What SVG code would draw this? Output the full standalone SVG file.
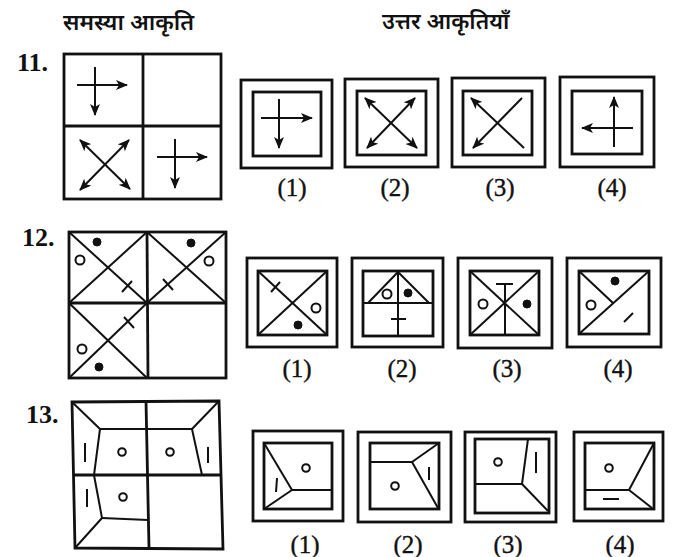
<svg xmlns="http://www.w3.org/2000/svg" width="686" height="557" viewBox="0 0 686 557">
<defs>
<marker id="ah" viewBox="0 0 12 10" refX="11" refY="5" markerWidth="12" markerHeight="10" markerUnits="userSpaceOnUse" orient="auto-start-reverse">
<path d="M0,0 L12,5 L0,10 L3,5 z" fill="#111"/>
</marker>
</defs>
<style>
.bx{fill:none;stroke:#111;stroke-width:2.8}
.ln{fill:none;stroke:#111;stroke-width:2}
.ar{fill:none;stroke:#111;stroke-width:2;marker-end:url(#ah)}
.ar2{fill:none;stroke:#111;stroke-width:2;marker-start:url(#ah);marker-end:url(#ah)}
.oc{fill:#fff;stroke:#111;stroke-width:2}
.fd{fill:#111;stroke:#111;stroke-width:1}
.hd{font-family:"Noto Sans Devanagari","Noto Sans","DejaVu Sans",sans-serif;font-weight:600;fill:#111}
.num{font-family:"Liberation Serif",serif;font-weight:bold;font-size:26px;fill:#111}
.lb{font-family:"Liberation Serif",serif;font-size:25px;fill:#111;stroke:#111;stroke-width:0.4;text-anchor:middle}
</style>
<rect width="686" height="557" fill="#fff"/>

<g id="headers">
<text class="hd" x="63" y="30" font-size="23">समस्या आकृति</text>
<text class="hd" x="382" y="29" font-size="22.5">उत्तर आकृतियाँ</text>
</g>

<!-- Question 11 -->
<g id="q11-problem">
<text class="num" x="17" y="71">11.</text>
<rect class="bx" x="64" y="54" width="157" height="145"/>
<line class="bx" x1="143" y1="54" x2="143" y2="199"/>
<line class="bx" x1="64" y1="126" x2="221" y2="126"/>
<line class="ar" x1="77" y1="85" x2="127" y2="85"/>
<line class="ar" x1="95" y1="67" x2="95" y2="115"/>
<line class="ar2" x1="80" y1="140" x2="130" y2="189"/>
<line class="ar2" x1="129" y1="140" x2="80" y2="190"/>
<line class="ar" x1="157" y1="157" x2="207" y2="157"/>
<line class="ar" x1="175" y1="139" x2="175" y2="188"/>
</g>
<g id="q11-a1">
<rect class="bx" x="241" y="80" width="91" height="88"/>
<rect class="bx" x="253" y="92" width="68" height="64"/>
<line class="ar" x1="261" y1="118" x2="312" y2="118"/>
<line class="ar" x1="279" y1="99" x2="279" y2="148"/>
<text class="lb" x="292" y="196">(1)</text>
</g>
<g id="q11-a2">
<rect class="bx" x="345" y="79" width="93" height="88"/>
<rect class="bx" x="357" y="91" width="69" height="64"/>
<line class="ar2" x1="365" y1="98" x2="417" y2="148"/>
<line class="ar2" x1="415" y1="98" x2="367" y2="148"/>
<text class="lb" x="395" y="196">(2)</text>
</g>
<g id="q11-a3">
<rect class="bx" x="452" y="78" width="93" height="89"/>
<rect class="bx" x="463" y="91" width="69" height="64"/>
<line class="ar" x1="524" y1="148" x2="471" y2="98"/>
<line class="ar" x1="522" y1="98" x2="473" y2="148"/>
<text class="lb" x="500" y="196">(3)</text>
</g>
<g id="q11-a4">
<rect class="bx" x="560" y="77" width="94" height="90"/>
<rect class="bx" x="572" y="91" width="70" height="63"/>
<line class="ar" x1="633" y1="128" x2="582" y2="128"/>
<line class="ar" x1="614" y1="147" x2="614" y2="97"/>
<text class="lb" x="612" y="196">(4)</text>
</g>

<!-- Question 12 -->
<g id="q12-problem">
<text class="num" x="22" y="246">12.</text>
<rect class="bx" x="69" y="232" width="157" height="146"/>
<line class="bx" x1="147" y1="232" x2="148" y2="378"/>
<line class="bx" x1="69" y1="303" x2="226" y2="303"/>
<line class="ln" x1="69" y1="232" x2="147" y2="303"/>
<line class="ln" x1="147" y1="232" x2="69" y2="303"/>
<circle class="oc" cx="80" cy="260" r="4.5"/>
<circle class="fd" cx="97" cy="242" r="4"/>
<line class="ln" x1="122" y1="292" x2="132" y2="281"/>
<line class="ln" x1="147" y1="232" x2="226" y2="303"/>
<line class="ln" x1="226" y1="232" x2="147" y2="303"/>
<circle class="fd" cx="191" cy="243" r="4"/>
<circle class="oc" cx="209" cy="261" r="4.5"/>
<line class="ln" x1="163" y1="279" x2="173" y2="290"/>
<line class="ln" x1="69" y1="303" x2="147" y2="378"/>
<line class="ln" x1="147" y1="303" x2="69" y2="378"/>
<circle class="oc" cx="82" cy="349" r="4.5"/>
<circle class="fd" cx="99" cy="367" r="4"/>
<line class="ln" x1="124" y1="317" x2="134" y2="328"/>
</g>
<g id="q12-a1">
<rect class="bx" x="247" y="258" width="90" height="89"/>
<rect class="bx" x="258" y="271" width="69" height="64"/>
<line class="ln" x1="258" y1="271" x2="327" y2="335"/>
<line class="ln" x1="327" y1="271" x2="258" y2="335"/>
<line class="ln" x1="271" y1="292" x2="280" y2="282"/>
<circle class="oc" cx="316" cy="308" r="4.5"/>
<circle class="fd" cx="298" cy="325" r="4"/>
<text class="lb" x="297" y="377">(1)</text>
</g>
<g id="q12-a2">
<rect class="bx" x="352" y="258" width="91" height="89"/>
<rect class="bx" x="363" y="271" width="70" height="65"/>
<line class="ln" x1="363" y1="303" x2="433" y2="303"/>
<line class="ln" x1="398" y1="271" x2="398" y2="336"/>
<polyline class="ln" points="368,303 398,272 429,303"/>
<circle class="oc" cx="387" cy="294" r="4.5"/>
<circle class="fd" cx="408" cy="293" r="4"/>
<line class="ln" x1="391" y1="319" x2="406" y2="319"/>
<text class="lb" x="402" y="377">(2)</text>
</g>
<g id="q12-a3">
<rect class="bx" x="458" y="258" width="94" height="90"/>
<rect class="bx" x="470" y="271" width="69" height="64"/>
<line class="ln" x1="470" y1="271" x2="539" y2="335"/>
<line class="ln" x1="539" y1="271" x2="470" y2="335"/>
<line class="ln" x1="505" y1="284" x2="505" y2="335"/>
<line class="ln" x1="496" y1="284" x2="513" y2="284"/>
<circle class="oc" cx="483" cy="304" r="4.5"/>
<circle class="fd" cx="527" cy="304" r="4"/>
<text class="lb" x="507" y="377">(3)</text>
</g>
<g id="q12-a4">
<rect class="bx" x="567" y="258" width="94" height="89"/>
<rect class="bx" x="579" y="271" width="70" height="63"/>
<line class="ln" x1="579" y1="334" x2="649" y2="271"/>
<line class="ln" x1="579" y1="271" x2="613" y2="303"/>
<circle class="fd" cx="615" cy="281" r="4"/>
<circle class="oc" cx="591" cy="305" r="4.5"/>
<line class="ln" x1="624" y1="322" x2="633" y2="313"/>
<text class="lb" x="618" y="377">(4)</text>
</g>

<!-- Question 13 -->
<g id="q13-problem">
<text class="num" x="26" y="423">13.</text>
<polygon class="bx" points="72,402 219,401 223,549 75,548"/>
<line class="bx" x1="146" y1="401" x2="149" y2="548"/>
<line class="bx" x1="73" y1="475" x2="221" y2="475"/>
<line class="ln" x1="72" y1="402" x2="100" y2="429"/>
<line class="ln" x1="100" y1="429" x2="146" y2="429"/>
<line class="ln" x1="100" y1="429" x2="94" y2="475"/>
<line class="ln" x1="85" y1="443" x2="85" y2="462"/>
<circle class="oc" cx="122" cy="452" r="3.8"/>
<line class="ln" x1="219" y1="401" x2="192" y2="429"/>
<line class="ln" x1="146" y1="429" x2="192" y2="429"/>
<line class="ln" x1="192" y1="429" x2="202" y2="475"/>
<line class="ln" x1="208" y1="447" x2="208" y2="463"/>
<circle class="oc" cx="170" cy="452" r="3.8"/>
<line class="ln" x1="94" y1="475" x2="102" y2="518"/>
<line class="ln" x1="102" y1="518" x2="148" y2="520"/>
<line class="ln" x1="102" y1="518" x2="75" y2="548"/>
<line class="ln" x1="87" y1="489" x2="87" y2="507"/>
<circle class="oc" cx="123" cy="497" r="3.8"/>
</g>
<g id="q13-a1">
<rect class="bx" x="253" y="431" width="90" height="90"/>
<rect class="bx" x="264" y="443" width="68" height="66"/>
<line class="ln" x1="264" y1="443" x2="292" y2="490"/>
<line class="ln" x1="292" y1="490" x2="332" y2="490"/>
<line class="ln" x1="292" y1="490" x2="264" y2="509"/>
<line class="ln" x1="277" y1="478" x2="276" y2="492"/>
<circle class="oc" cx="306" cy="468" r="3.8"/>
<text class="lb" x="305" y="553">(1)</text>
</g>
<g id="q13-a2">
<rect class="bx" x="358" y="432" width="93" height="90"/>
<rect class="bx" x="370" y="443" width="69" height="66"/>
<line class="ln" x1="370" y1="462" x2="412" y2="462"/>
<line class="ln" x1="412" y1="462" x2="439" y2="443"/>
<line class="ln" x1="412" y1="462" x2="438" y2="508"/>
<line class="ln" x1="429" y1="467" x2="429" y2="480"/>
<circle class="oc" cx="395" cy="486" r="3.8"/>
<text class="lb" x="408" y="553">(2)</text>
</g>
<g id="q13-a3">
<rect class="bx" x="465" y="432" width="91" height="90"/>
<rect class="bx" x="475" y="439" width="74" height="74"/>
<line class="ln" x1="475" y1="484" x2="522" y2="484"/>
<line class="ln" x1="522" y1="484" x2="528" y2="439"/>
<line class="ln" x1="522" y1="484" x2="548" y2="511"/>
<line class="ln" x1="536" y1="452" x2="536" y2="473"/>
<circle class="oc" cx="498" cy="462" r="3.8"/>
<text class="lb" x="508" y="553">(3)</text>
</g>
<g id="q13-a4">
<rect class="bx" x="574" y="432" width="89" height="89"/>
<rect class="bx" x="585" y="443" width="69" height="66"/>
<line class="ln" x1="585" y1="490" x2="629" y2="490"/>
<line class="ln" x1="629" y1="490" x2="654" y2="443"/>
<line class="ln" x1="629" y1="490" x2="652" y2="508"/>
<line class="ln" x1="603" y1="499" x2="619" y2="499"/>
<circle class="oc" cx="609" cy="468" r="3.8"/>
<text class="lb" x="620" y="553">(4)</text>
</g>
</svg>
